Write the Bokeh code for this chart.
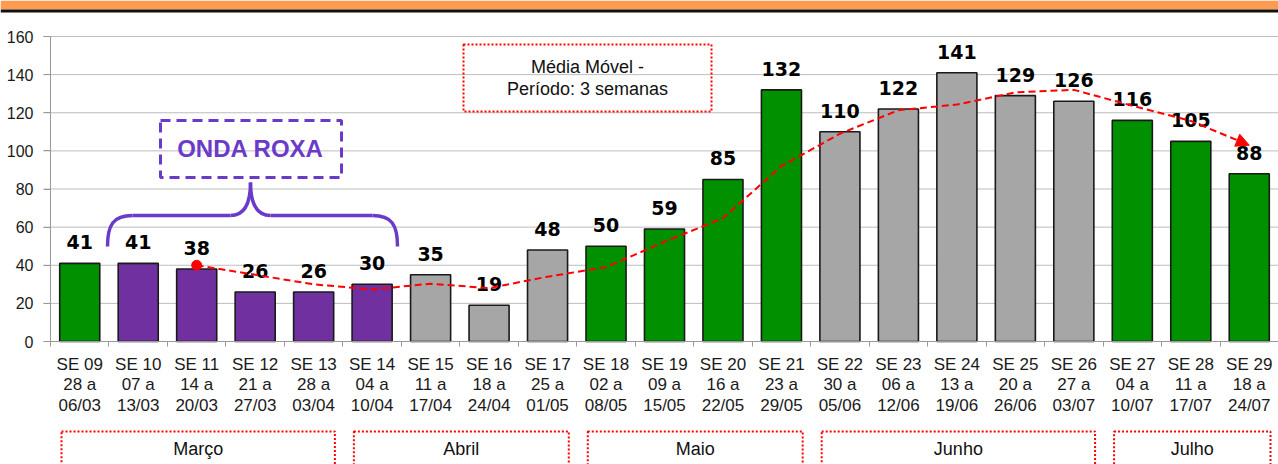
from bokeh.plotting import figure
from bokeh.models import Range1d, LinearAxis, FixedTicker, ColumnDataSource, Arrow, NormalHead
from bokeh.embed import file_html
from bokeh.resources import INLINE
from bokeh.core.properties import value

# ---------------- data ----------------
weeks = ["SE 09", "SE 10", "SE 11", "SE 12", "SE 13", "SE 14", "SE 15", "SE 16", "SE 17",
         "SE 18", "SE 19", "SE 20", "SE 21", "SE 22", "SE 23", "SE 24", "SE 25", "SE 26",
         "SE 27", "SE 28", "SE 29"]
week_start = ["28 a", "07 a", "14 a", "21 a", "28 a", "04 a", "11 a", "18 a", "25 a",
              "02 a", "09 a", "16 a", "23 a", "30 a", "06 a", "13 a", "20 a", "27 a",
              "04 a", "11 a", "18 a"]
week_end = ["06/03", "13/03", "20/03", "27/03", "03/04", "10/04", "17/04", "24/04", "01/05",
            "08/05", "15/05", "22/05", "29/05", "05/06", "12/06", "19/06", "26/06", "03/07",
            "10/07", "17/07", "24/07"]
cases = [41, 41, 38, 26, 26, 30, 35, 19, 48, 50, 59, 85, 132, 110, 122, 141, 129, 126, 116, 105, 88]
phase = ["verde", "roxo", "roxo", "roxo", "roxo", "roxo", "cinza", "cinza", "cinza",
         "verde", "verde", "verde", "verde", "cinza", "cinza", "cinza", "cinza", "cinza",
         "verde", "verde", "verde"]
moving_avg = [None, None, 40.0, 35.0, 30.0, 27.3, 30.3, 28.0, 34.0, 39.0, 52.3, 64.7, 92.0,
              109.0, 121.3, 124.3, 130.7, 132.0, 123.7, 115.7, 103.0]
months = ["Março", "Abril", "Maio", "Junho", "Julho"]
weeks_per_month = [5, 4, 4, 5, 3]
y_ticks = [0, 20, 40, 60, 80, 100, 120, 140, 160]

# ---------------- styles ----------------
phase_color = {"verde": "#009000", "roxo": "#7030A0", "cinza": "#A6A6A6"}
PURPLE = "#6A3BCB"
RED = "#FF0000"
GRID = "#BDBDBD"
AXIS = "#999999"
ORANGE = "#FF9B50"

FIG_W = 1278
FIG_H = 464
AXIS_X_PX = 50      # page x of the value axis
Y0_PX = 341         # page y of value 0
Y160_PX = 36        # page y of value 160
n = len(cases)
sx = (FIG_W - AXIS_X_PX) / n
sy = (Y0_PX - Y160_PX) / 160.0


def X(px):
    return -0.5 + (px - AXIS_X_PX) / sx


def Y(py):
    return (Y0_PX - py) / sy


p = figure(width=FIG_W, height=FIG_H, toolbar_location=None, output_backend="svg",
           x_axis_type=None, y_axis_type=None, min_border=0,
           outline_line_color=None, background_fill_color="white", border_fill_color="white")
p.x_range = Range1d(X(0), X(FIG_W))
p.y_range = Range1d(Y(FIG_H), Y(0))
p.xgrid.visible = False
p.ygrid.visible = False

# banner at the top
p.quad(left=X(0), right=X(FIG_W), top=Y(0), bottom=Y(9), fill_color=ORANGE, line_color=None)
p.quad(left=X(0), right=X(FIG_W), top=Y(9), bottom=Y(12), fill_color="#111111", line_color=None)

# horizontal grid lines (with the small outer tick part)
p.segment(x0=[X(AXIS_X_PX - 7)] * len(y_ticks), x1=[n - 0.5] * len(y_ticks),
          y0=y_ticks, y1=y_ticks, line_color=GRID, line_width=1)

yticker = FixedTicker(ticks=y_ticks)
yaxis = LinearAxis(ticker=yticker, bounds=(0, 160), fixed_location=-0.5)
yaxis.axis_line_color = AXIS
yaxis.major_tick_line_color = AXIS
yaxis.major_tick_out = 7
yaxis.major_tick_in = 0
yaxis.minor_tick_line_color = None
yaxis.major_label_standoff = 10
yaxis.major_label_text_font = "Liberation Sans"
yaxis.major_label_text_font_size = "16px"
yaxis.major_label_text_color = "#1A1A1A"
p.add_layout(yaxis, "left")

idx = list(range(n))
labels = {i: f"{weeks[i]}\n{week_start[i]}\n{week_end[i]}" for i in idx}
xticker = FixedTicker(ticks=idx, minor_ticks=[i - 0.5 for i in range(n + 1)])
xaxis = LinearAxis(ticker=xticker, fixed_location=0, bounds=(-0.5, n - 0.5))
xaxis.major_label_overrides = labels
xaxis.axis_line_color = AXIS
xaxis.major_tick_line_color = None
xaxis.minor_tick_line_color = AXIS
xaxis.minor_tick_out = 5
xaxis.minor_tick_in = 0
xaxis.major_label_standoff = 7
xaxis.major_label_text_font = "Liberation Sans"
xaxis.major_label_text_font_size = "17px"
xaxis.major_label_text_color = "#1A1A1A"
xaxis.major_label_text_line_height = 1.08
p.add_layout(xaxis, "below")

src = ColumnDataSource(dict(
    x=idx, top=cases, color=[phase_color[c] for c in phase],
    label=[str(v) for v in cases],
    ly=[v + 21 / sy for v in cases],
))
p.vbar(x="x", top="top", bottom=0, width=0.685, source=src, fill_color="color",
       line_color="#1A1A1A", line_width=1.6)
p.text(x="x", y="ly", text="label", source=src, text_align="center",
       text_baseline="middle", text_font=value("DejaVu Sans"), text_font_style="bold",
       text_font_size="19px", text_color="#000000")

# moving average
ma_x = [i for i in idx if moving_avg[i] is not None]
ma_y = [moving_avg[i] for i in ma_x]
p.line(ma_x, ma_y, line_color=RED, line_width=2, line_dash="7 4")
p.scatter([ma_x[0]], [ma_y[0]], size=10, fill_color=RED, line_color=RED)
p.add_layout(Arrow(end=NormalHead(size=13, fill_color=RED, line_color=RED),
                   x_start=ma_x[-2], y_start=ma_y[-2], x_end=ma_x[-1], y_end=ma_y[-1],
                   line_alpha=0))

# "Média Móvel" box
p.quad(left=X(463), right=X(711), top=Y(44), bottom=Y(111), fill_color=None,
       line_color=RED, line_width=2, line_dash="2 2")
p.text(x=[X(587), X(587)], y=[Y(66.5), Y(88)],
       text=["Média Móvel -", "Período: 3 semanas"], text_align="center",
       text_baseline="middle", text_font=value("Liberation Sans"),
       text_font_size="18px", text_color="#111111")

# "ONDA ROXA" box and brace
p.quad(left=X(160), right=X(341), top=Y(120), bottom=Y(177), fill_color=None,
       line_color=PURPLE, line_width=3, line_dash="10 6")
p.text(x=[X(250)], y=[Y(148)], text=["ONDA ROXA"], text_align="center",
       text_baseline="middle", text_font=value("Liberation Sans"), text_font_style="bold",
       text_font_size="24px", text_color=PURPLE)
curves = [
    ((107, 246), (132, 215), (107, 224), (113, 215)),
    ((230, 215), (250, 182), (243, 215), (250, 205)),
    ((250, 182), (270, 215), (250, 205), (257, 215)),
    ((372, 215), (397, 246), (391, 215), (397, 224)),
]
p.bezier(x0=[X(c[0][0]) for c in curves], y0=[Y(c[0][1]) for c in curves],
         x1=[X(c[1][0]) for c in curves], y1=[Y(c[1][1]) for c in curves],
         cx0=[X(c[2][0]) for c in curves], cy0=[Y(c[2][1]) for c in curves],
         cx1=[X(c[3][0]) for c in curves], cy1=[Y(c[3][1]) for c in curves],
         line_color=PURPLE, line_width=3.5)
p.segment(x0=[X(132), X(270)], y0=[Y(215), Y(215)], x1=[X(230), X(372)], y1=[Y(215), Y(215)],
          line_color=PURPLE, line_width=3.5)

# month boxes
m_left, m_right, m_cx = [], [], []
start = 0
for k in weeks_per_month:
    lft = start - 0.5 + 11 / sx
    rgt = min(start + k - 0.5 - 8 / sx, n - 0.5 - 2 / sx)
    m_left.append(lft)
    m_right.append(rgt)
    m_cx.append((lft + rgt) / 2)
    start += k
p.quad(left=m_left, right=m_right, top=Y(431), bottom=Y(475), fill_color=None,
       line_color=RED, line_width=2, line_dash="2 2")
p.text(x=m_cx, y=[Y(448)] * len(months), text=months, text_align="center",
       text_baseline="middle", text_font=value("Liberation Sans"),
       text_font_size="18px", text_color="#111111")

open("out.html", "w").write(file_html(p, INLINE))
